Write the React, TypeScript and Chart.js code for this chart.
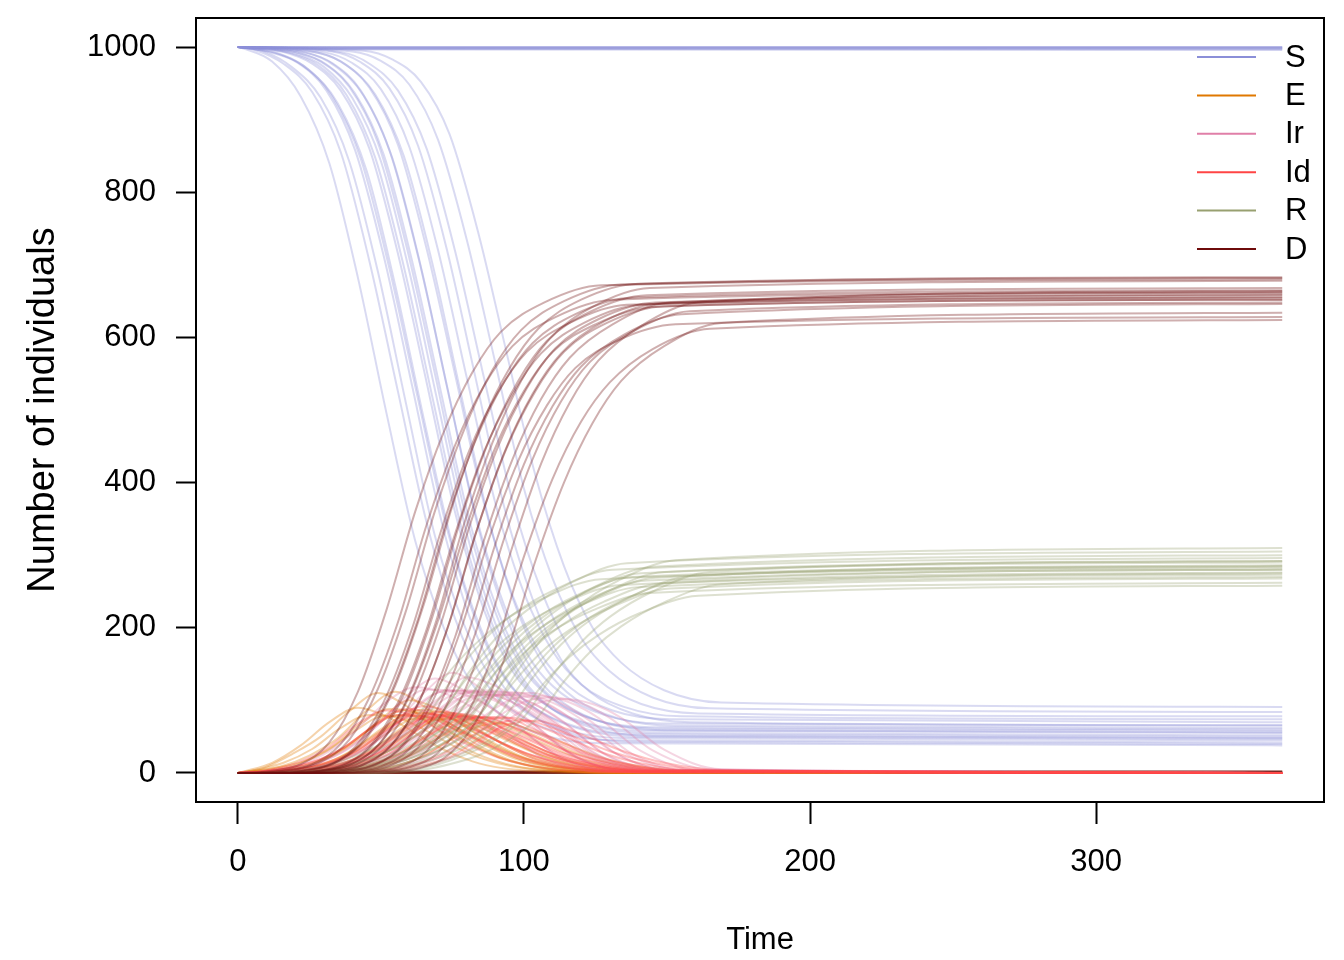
import { useEffect, useRef } from 'react';
import { Chart, registerables } from 'chart.js';

Chart.register(...registerables);

const X_TICKS = [0, 100, 200, 300];
const Y_TICKS = [0, 200, 400, 600, 800, 1000];
const LEGEND_LABELS = ['S', 'E', 'Ir', 'Id', 'R', 'D'];
const COLORS = ['#8b8fd8', '#e07800', '#e07fa8', '#ff4545', '#98a070', '#6e0b0b'];

// sampling times of each simulated outbreak (one row per run)
const RUN_TIMES = [
    [0, 2, 12, 22, 32, 42, 52, 62, 72, 82, 92, 107, 127, 365],
    [0, 6, 16, 26, 36, 46, 56, 66, 76, 86, 96, 111, 131, 365],
    [0, 9, 19, 29, 39, 49, 59, 69, 79, 89, 99, 114, 134, 365],
    [0, 11, 21, 31, 41, 51, 61, 71, 81, 91, 101, 116, 136, 365],
    [0, 13, 23, 33, 43, 53, 63, 73, 83, 93, 103, 118, 138, 365],
    [0, 15, 25, 35, 45, 55, 65, 75, 85, 95, 105, 120, 140, 365],
    [0, 16, 26, 36, 46, 56, 66, 76, 86, 96, 106, 121, 141, 365],
    [0, 18, 28, 38, 48, 58, 68, 78, 88, 98, 108, 123, 143, 365],
    [0, 19, 29, 39, 49, 59, 69, 79, 89, 99, 109, 124, 144, 365],
    [0, 20, 30, 40, 50, 60, 70, 80, 90, 100, 110, 125, 145, 365],
    [0, 21, 31, 41, 51, 61, 71, 81, 91, 101, 111, 126, 146, 365],
    [0, 23, 33, 43, 53, 63, 73, 83, 93, 103, 113, 128, 148, 365],
    [0, 24, 34, 44, 54, 64, 74, 84, 94, 104, 114, 129, 149, 365],
    [0, 26, 36, 46, 56, 66, 76, 86, 96, 106, 116, 131, 151, 365],
    [0, 28, 38, 48, 58, 68, 78, 88, 98, 108, 118, 133, 153, 365],
    [0, 30, 40, 50, 60, 70, 80, 90, 100, 110, 120, 135, 155, 365],
    [0, 33, 43, 53, 63, 73, 83, 93, 103, 113, 123, 138, 158, 365],
    [0, 36, 46, 56, 66, 76, 86, 96, 106, 116, 126, 141, 161, 365],
    [0, 40, 50, 60, 70, 80, 90, 100, 110, 120, 130, 145, 165, 365],
    [0, 44, 54, 64, 74, 84, 94, 104, 114, 124, 134, 149, 169, 365],
];

const S_RUNS = [
    [1000, 998, 980, 932, 840, 682, 495, 320, 200, 122, 80, 52, 41, 38],
    [1000, 996, 977, 938, 855, 705, 525, 345, 212, 128, 86, 57, 45, 42],
    [1000, 994, 972, 930, 842, 690, 505, 325, 205, 128, 88, 60, 48, 45],
    [1000, 993, 978, 940, 858, 712, 532, 350, 215, 130, 85, 55, 43, 40],
    [1000, 992, 974, 932, 846, 695, 515, 338, 212, 132, 92, 64, 53, 50],
    [1000, 990, 968, 922, 830, 672, 488, 315, 198, 123, 86, 60, 50, 47],
    [1000, 993, 977, 940, 860, 715, 538, 358, 225, 140, 98, 70, 58, 55],
    [1000, 992, 975, 934, 848, 698, 518, 340, 214, 134, 93, 66, 55, 52],
    [1000, 994, 980, 945, 868, 725, 548, 365, 232, 148, 104, 74, 63, 60],
    [1000, 991, 973, 930, 843, 690, 508, 330, 206, 128, 88, 61, 51, 48],
    [1000, 992, 976, 936, 852, 704, 525, 347, 222, 142, 100, 72, 61, 58],
    [1000, 993, 978, 940, 858, 712, 535, 358, 232, 152, 110, 80, 68, 65],
    [1000, 992, 974, 933, 847, 697, 516, 338, 213, 135, 96, 68, 59, 56],
    [1000, 994, 980, 944, 865, 722, 548, 372, 245, 163, 118, 86, 74, 70],
    [1000, 992, 975, 935, 850, 702, 522, 345, 220, 142, 102, 75, 65, 62],
    [1000, 993, 978, 942, 862, 720, 545, 372, 248, 168, 122, 91, 78, 74],
    [1000, 994, 979, 943, 864, 722, 546, 368, 240, 156, 112, 82, 70, 66],
    [1000, 993, 977, 940, 860, 718, 545, 375, 252, 172, 128, 95, 82, 78],
    [1000, 994, 981, 948, 872, 735, 565, 392, 268, 186, 140, 104, 89, 84],
    [1000, 995, 983, 952, 880, 745, 578, 410, 285, 200, 152, 114, 97, 91],
];

const E_RUNS = [
    [0, 2, 14, 38, 70, 90, 78, 55, 32, 16, 7, 2, 0, 0],
    [0, 4, 14, 33, 62, 80, 76, 58, 36, 19, 9, 3, 0, 0],
    [0, 7, 26, 50, 85, 110, 92, 62, 35, 18, 8, 2, 0, 0],
    [0, 4, 12, 30, 58, 78, 78, 62, 40, 22, 11, 3, 0, 0],
    [0, 7, 16, 36, 68, 88, 82, 60, 37, 19, 9, 2, 0, 0],
    [0, 9, 24, 48, 86, 112, 92, 62, 36, 18, 8, 2, 0, 0],
    [0, 5, 13, 32, 60, 80, 78, 60, 39, 21, 10, 3, 0, 0],
    [0, 6, 15, 36, 66, 86, 80, 59, 37, 20, 10, 3, 0, 0],
    [0, 4, 11, 28, 55, 74, 74, 58, 38, 22, 11, 4, 1, 0],
    [0, 7, 18, 40, 74, 100, 88, 62, 38, 20, 9, 3, 0, 0],
    [0, 5, 14, 34, 63, 83, 80, 60, 38, 20, 10, 3, 0, 0],
    [0, 4, 12, 30, 57, 76, 76, 60, 40, 23, 12, 4, 1, 0],
    [0, 6, 16, 37, 67, 87, 81, 60, 37, 19, 9, 2, 0, 0],
    [0, 3, 10, 26, 52, 72, 74, 60, 41, 24, 13, 4, 1, 0],
    [0, 6, 15, 35, 64, 84, 80, 61, 39, 21, 10, 3, 0, 0],
    [0, 4, 11, 28, 54, 74, 75, 59, 40, 23, 12, 4, 1, 0],
    [0, 5, 13, 31, 60, 80, 78, 60, 39, 21, 11, 3, 0, 0],
    [0, 3, 10, 25, 50, 70, 73, 60, 42, 25, 13, 4, 1, 0],
    [0, 3, 9, 24, 48, 66, 70, 58, 41, 25, 14, 5, 1, 0],
    [0, 3, 8, 22, 45, 64, 68, 57, 41, 26, 14, 5, 1, 0],
];

const IR_RUNS = [
    [0, 0, 4, 12, 30, 62, 98, 118, 110, 90, 62, 20, 2, 0],
    [0, 1, 5, 12, 28, 56, 92, 115, 112, 96, 70, 25, 3, 0],
    [0, 2, 7, 15, 34, 66, 106, 130, 114, 88, 60, 19, 2, 0],
    [0, 2, 5, 11, 26, 52, 88, 112, 114, 100, 75, 27, 3, 0],
    [0, 2, 5, 12, 29, 57, 92, 114, 110, 93, 68, 23, 2, 0],
    [0, 3, 7, 16, 35, 68, 110, 138, 116, 86, 58, 18, 1, 0],
    [0, 2, 5, 12, 27, 54, 90, 113, 112, 97, 72, 25, 3, 0],
    [0, 2, 5, 12, 28, 55, 90, 110, 108, 94, 70, 24, 3, 0],
    [0, 1, 4, 10, 24, 48, 82, 105, 108, 97, 74, 28, 4, 0],
    [0, 2, 6, 13, 30, 60, 100, 132, 120, 95, 68, 23, 2, 0],
    [0, 2, 5, 12, 28, 55, 90, 112, 110, 95, 70, 25, 3, 0],
    [0, 1, 4, 11, 25, 50, 84, 106, 108, 96, 73, 27, 4, 0],
    [0, 2, 5, 12, 29, 57, 92, 114, 111, 94, 69, 24, 2, 0],
    [0, 1, 4, 10, 23, 46, 80, 104, 108, 98, 76, 29, 4, 0],
    [0, 2, 5, 12, 28, 55, 90, 112, 111, 96, 71, 25, 3, 0],
    [0, 1, 4, 10, 24, 48, 82, 106, 108, 97, 74, 28, 4, 0],
    [0, 2, 5, 11, 26, 52, 87, 110, 110, 96, 72, 26, 3, 0],
    [0, 1, 3, 9, 22, 45, 78, 102, 106, 97, 76, 30, 4, 0],
    [0, 1, 3, 9, 21, 43, 75, 98, 104, 96, 76, 31, 5, 0],
    [0, 1, 3, 8, 20, 40, 72, 95, 102, 95, 76, 32, 5, 0],
];

const ID_RUNS = [
    [0, 0, 5, 16, 36, 68, 86, 78, 56, 36, 20, 7, 1, 0],
    [0, 1, 6, 15, 32, 60, 80, 77, 60, 42, 25, 10, 2, 0],
    [0, 2, 8, 19, 40, 70, 88, 80, 56, 36, 19, 7, 1, 0],
    [0, 2, 5, 13, 29, 56, 78, 79, 62, 44, 27, 11, 2, 0],
    [0, 2, 6, 15, 33, 62, 82, 78, 59, 40, 24, 9, 2, 0],
    [0, 3, 9, 20, 42, 73, 92, 82, 57, 35, 18, 6, 1, 0],
    [0, 2, 5, 13, 29, 56, 77, 77, 61, 43, 26, 10, 2, 0],
    [0, 2, 6, 15, 32, 61, 81, 78, 60, 42, 25, 10, 2, 0],
    [0, 2, 5, 13, 28, 54, 76, 78, 63, 45, 28, 12, 3, 0],
    [0, 2, 7, 16, 35, 64, 84, 79, 59, 40, 23, 9, 2, 0],
    [0, 2, 6, 14, 31, 59, 79, 77, 60, 42, 25, 10, 2, 0],
    [0, 2, 5, 12, 27, 53, 75, 77, 62, 45, 28, 12, 3, 0],
    [0, 2, 6, 15, 33, 62, 82, 78, 59, 41, 24, 9, 2, 0],
    [0, 1, 4, 11, 25, 50, 72, 76, 63, 46, 29, 13, 3, 0],
    [0, 2, 6, 14, 31, 58, 78, 76, 59, 42, 25, 10, 2, 0],
    [0, 1, 5, 12, 27, 52, 74, 76, 62, 45, 28, 12, 3, 0],
    [0, 2, 5, 13, 29, 56, 77, 77, 61, 43, 26, 11, 2, 0],
    [0, 1, 4, 11, 25, 50, 72, 76, 63, 47, 30, 13, 3, 0],
    [0, 1, 4, 10, 23, 47, 68, 73, 62, 46, 30, 14, 3, 0],
    [0, 1, 4, 10, 22, 45, 66, 72, 62, 47, 31, 14, 4, 0],
];

const R_RUNS = [
    [0, 0, 1, 4, 12, 25, 45, 75, 130, 174, 207, 241, 267, 282],
    [0, 0, 1, 4, 13, 26, 47, 78, 136, 183, 218, 253, 280, 296],
    [0, 0, 1, 4, 12, 24, 43, 72, 125, 169, 201, 234, 259, 273],
    [0, 0, 1, 4, 13, 27, 49, 81, 140, 189, 224, 261, 289, 305],
    [0, 0, 1, 4, 12, 25, 45, 76, 131, 176, 209, 244, 270, 285],
    [0, 0, 1, 4, 11, 24, 43, 72, 124, 167, 198, 231, 256, 270],
    [0, 0, 1, 4, 12, 26, 46, 77, 133, 179, 213, 248, 275, 290],
    [0, 0, 1, 4, 12, 25, 45, 74, 129, 173, 206, 240, 265, 280],
    [0, 0, 1, 4, 11, 23, 42, 69, 120, 162, 193, 224, 248, 262],
    [0, 0, 1, 4, 13, 27, 48, 80, 138, 186, 220, 257, 284, 300],
    [0, 0, 1, 4, 12, 25, 45, 75, 130, 176, 209, 243, 269, 284],
    [0, 0, 1, 4, 12, 24, 44, 73, 127, 171, 203, 236, 261, 276],
    [0, 0, 1, 4, 12, 26, 46, 77, 134, 181, 215, 250, 277, 292],
    [0, 0, 1, 4, 11, 24, 43, 71, 123, 166, 197, 229, 254, 268],
    [0, 0, 1, 4, 13, 27, 49, 82, 142, 192, 228, 265, 293, 310],
    [0, 0, 1, 4, 12, 25, 45, 74, 128, 173, 206, 239, 265, 280],
    [0, 0, 1, 4, 12, 25, 45, 76, 131, 177, 210, 244, 271, 286],
    [0, 0, 1, 4, 11, 23, 41, 68, 119, 160, 190, 221, 244, 258],
    [0, 0, 1, 4, 12, 26, 46, 77, 134, 180, 215, 250, 277, 292],
    [0, 0, 1, 4, 12, 24, 44, 73, 126, 170, 202, 235, 260, 275],
];

const D_RUNS = [
    [0, 0, 3, 12, 42, 112, 225, 360, 470, 552, 608, 648, 672, 680],
    [0, 0, 3, 12, 40, 104, 208, 342, 452, 533, 588, 628, 652, 662],
    [0, 1, 4, 15, 46, 116, 226, 362, 472, 555, 610, 650, 673, 682],
    [0, 0, 2, 10, 36, 98, 200, 333, 445, 525, 580, 620, 645, 655],
    [0, 0, 3, 12, 41, 106, 212, 347, 457, 538, 592, 632, 655, 665],
    [0, 1, 5, 16, 48, 120, 232, 368, 478, 558, 612, 652, 674, 683],
    [0, 0, 2, 10, 36, 97, 198, 330, 442, 522, 578, 620, 645, 655],
    [0, 0, 3, 12, 42, 108, 215, 350, 460, 540, 595, 635, 658, 668],
    [0, 0, 3, 11, 38, 100, 205, 342, 455, 540, 598, 642, 668, 678],
    [0, 0, 3, 13, 42, 106, 210, 340, 448, 526, 580, 618, 642, 652],
    [0, 0, 3, 11, 39, 102, 206, 340, 450, 530, 585, 625, 648, 658],
    [0, 0, 2, 10, 35, 95, 196, 328, 440, 522, 578, 622, 647, 659],
    [0, 0, 3, 12, 40, 104, 208, 340, 448, 526, 580, 620, 643, 652],
    [0, 0, 2, 9, 32, 90, 188, 320, 432, 515, 572, 618, 648, 662],
    [0, 0, 3, 11, 38, 98, 198, 325, 430, 506, 558, 596, 618, 628],
    [0, 0, 2, 9, 33, 90, 186, 315, 425, 505, 560, 604, 632, 646],
    [0, 0, 2, 10, 35, 94, 192, 322, 432, 512, 566, 608, 636, 648],
    [0, 0, 2, 8, 30, 86, 182, 312, 426, 510, 568, 616, 648, 664],
    [0, 0, 2, 8, 28, 80, 172, 298, 405, 484, 538, 584, 612, 624],
    [0, 0, 2, 7, 26, 76, 166, 292, 400, 482, 540, 588, 620, 634],
];

// runs where the outbreak died out at once
const NULL_TIMES = [0, 40, 365];
const NULL_S = [
    [1000, 1000, 1000],
    [1000, 1000, 1000],
    [1000, 999, 999],
    [1000, 999, 999],
    [1000, 998, 998],
    [1000, 998, 998],
    [1000, 997, 997],
    [1000, 997, 996],
];
const NULL_E = [[0, 0, 0], [0, 0, 0], [0, 0, 0], [0, 0, 0], [0, 0, 0], [0, 0, 0], [0, 0, 0], [0, 0, 0]];
const NULL_IR = [[0, 0, 0], [0, 0, 0], [0, 0, 0], [0, 0, 0], [0, 0, 0], [0, 0, 0], [0, 0, 0], [0, 0, 0]];
const NULL_ID = [[0, 0, 0], [0, 0, 0], [0, 0, 0], [0, 0, 0], [0, 0, 0], [0, 0, 0], [0, 0, 0], [0, 0, 0]];
const NULL_R = [[0, 0, 0], [0, 0, 0], [0, 0, 0], [0, 1, 1], [0, 1, 1], [0, 0, 0], [0, 1, 1], [0, 1, 2]];
const NULL_D = [[0, 0, 0], [0, 0, 0], [0, 1, 1], [0, 0, 0], [0, 1, 1], [0, 2, 2], [0, 2, 2], [0, 2, 2]];

const FONT = '"Liberation Sans", Arial, Helvetica, sans-serif';

function rgba(hex: string, a: number) {
    const n = parseInt(hex.slice(1), 16);
    return `rgba(${(n >> 16) & 255}, ${(n >> 8) & 255}, ${n & 255}, ${a})`;
}

const framePlugin = {
    id: 'frameAndLegend',
    afterDraw(chart: Chart) {
        const { ctx, chartArea: a } = chart;
        ctx.save();
        ctx.strokeStyle = '#000';
        ctx.lineWidth = 2;
        ctx.strokeRect(a.left, a.top, a.right - a.left, a.bottom - a.top);

        ctx.font = `31px ${FONT}`;
        ctx.textBaseline = 'middle';
        ctx.textAlign = 'left';
        ctx.fillStyle = '#000';
        LEGEND_LABELS.forEach((label, i) => {
            const y = a.top + 39 + i * 38.4;
            ctx.strokeStyle = COLORS[i];
            ctx.lineWidth = 2;
            ctx.beginPath();
            ctx.moveTo(a.right - 127, y);
            ctx.lineTo(a.right - 68, y);
            ctx.stroke();
            ctx.fillText(label, a.right - 39, y + 1);
        });
        ctx.restore();
    }
};

export default function App() {
    const canvasRef = useRef<HTMLCanvasElement>(null);

    useEffect(() => {
        document.body.style.margin = '0';
        if (!canvasRef.current) return;

        const groups = [
            { runs: S_RUNS, nulls: NULL_S },
            { runs: E_RUNS, nulls: NULL_E },
            { runs: IR_RUNS, nulls: NULL_IR },
            { runs: ID_RUNS, nulls: NULL_ID },
            { runs: R_RUNS, nulls: NULL_R },
            { runs: D_RUNS, nulls: NULL_D },
        ];

        const datasets: any[] = [];
        const add = (times: number[], vals: number[], color: string) => {
            datasets.push({
                data: times.map((t, j) => ({ x: t, y: vals[j] })),
                borderColor: color,
                borderWidth: 2,
                pointRadius: 0,
                fill: false,
                cubicInterpolationMode: 'monotone',
            });
        };
        // flat runs go underneath, outbreaks on top
        groups.forEach((g, gi) => g.nulls.forEach(vals => add(NULL_TIMES, vals, rgba(COLORS[gi], 0.33))));
        groups.forEach((g, gi) => g.runs.forEach((vals, ri) => add(RUN_TIMES[ri], vals, rgba(COLORS[gi], 0.33))));
        // first pushed is drawn first (bottom)
        datasets.forEach((d, i) => { d.order = datasets.length - i; });

        const tickFont = { family: FONT, size: 31 };

        const chart = new Chart(canvasRef.current, {
            type: 'line',
            data: { datasets },
            plugins: [framePlugin],
            options: {
                animation: false,
                responsive: false,
                devicePixelRatio: 1,
                layout: { padding: { top: 18, right: 20, left: 0, bottom: 0 } },
                plugins: { legend: { display: false }, tooltip: { enabled: false } },
                scales: {
                    x: {
                        type: 'linear',
                        min: -14.6,
                        max: 379.6,
                        afterBuildTicks: (axis: any) => { axis.ticks = X_TICKS.map(v => ({ value: v })); },
                        afterFit: (scale: any) => { scale.height = 158; scale.paddingLeft = 0; scale.paddingRight = 0; },
                        ticks: { font: tickFont, color: '#000', padding: 20, maxRotation: 0, callback: (v: any) => String(v) },
                        grid: { display: true, drawOnChartArea: false, drawTicks: true, tickLength: 22, tickWidth: 2, tickColor: '#000' },
                        border: { display: true, color: '#000', width: 2 },
                        title: { display: true, text: 'Time', color: '#000', font: tickFont, padding: { top: 0, bottom: 1 } },
                    },
                    y: {
                        type: 'linear',
                        min: -40,
                        max: 1040,
                        afterBuildTicks: (axis: any) => { axis.ticks = Y_TICKS.map(v => ({ value: v })); },
                        afterFit: (scale: any) => { scale.width = 196; scale.paddingTop = 0; scale.paddingBottom = 0; },
                        ticks: { font: tickFont, color: '#000', padding: 20, callback: (v: any) => String(v) },
                        grid: { display: true, drawOnChartArea: false, drawTicks: true, tickLength: 20, tickWidth: 2, tickColor: '#000' },
                        border: { display: true, color: '#000', width: 2 },
                        title: { display: true, text: 'Number of individuals', color: '#000', font: { family: FONT, size: 38 }, padding: { top: 21, bottom: 0 } },
                    },
                },
            },
        });

        return () => chart.destroy();
    }, []);

    return (
        <div style={{ width: 1344, height: 960, background: '#fff' }}>
            <canvas ref={canvasRef} width={1344} height={960} style={{ display: 'block' }} />
        </div>
    );
}
